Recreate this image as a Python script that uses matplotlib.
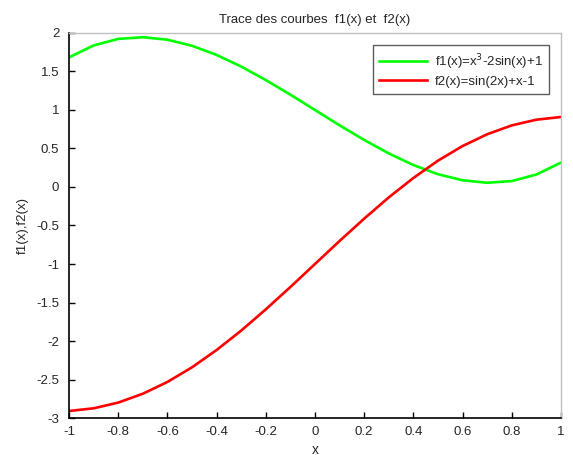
import numpy as np
import matplotlib.pyplot as plt

plt.rcParams['font.family'] = ['Liberation Sans', 'DejaVu Sans']

x = [-1.0, -0.9, -0.8, -0.7, -0.6, -0.5, -0.4, -0.3, -0.2, -0.1, 0.0,
     0.1, 0.2, 0.3, 0.4, 0.5, 0.6, 0.7, 0.8, 0.9, 1.0]
f1 = [1.683, 1.838, 1.923, 1.945, 1.913, 1.834, 1.715, 1.564, 1.389, 1.199, 1.0,
      0.801, 0.611, 0.436, 0.285, 0.166, 0.087, 0.055, 0.077, 0.162, 0.317]
f2 = [-2.909, -2.874, -2.800, -2.685, -2.532, -2.342, -2.117, -1.865, -1.589, -1.299, -1.0,
      -0.701, -0.411, -0.135, 0.117, 0.342, 0.532, 0.685, 0.800, 0.874, 0.909]

xticks = [-1, -0.8, -0.6, -0.4, -0.2, 0, 0.2, 0.4, 0.6, 0.8, 1]
xticklabels = ['-1', '-0.8', '-0.6', '-0.4', '-0.2', '0', '0.2', '0.4', '0.6', '0.8', '1']
yticks = [-3, -2.5, -2, -1.5, -1, -0.5, 0, 0.5, 1, 1.5, 2]
yticklabels = ['-3', '-2.5', '-2', '-1.5', '-1', '-0.5', '0', '0.5', '1', '1.5', '2']

txt = '#262626'

fig = plt.figure(figsize=(5.73, 4.55), dpi=100)
ax = fig.add_axes([0.1204, 0.0813, 0.8586, 0.8462])

ax.plot(x, f1, color='#00ff00', lw=1.9, label='f1(x)=x$^3$-2sin(x)+1')
ax.plot(x, f2, color='#ff0000', lw=1.9, label='f2(x)=sin(2x)+x-1')

ax.set_xlim(-1, 1)
ax.set_ylim(-3, 2)
ax.set_xticks(xticks)
ax.set_xticklabels(xticklabels)
ax.set_yticks(yticks)
ax.set_yticklabels(yticklabels)
ax.tick_params(direction='in', length=4, width=1, labelsize=9.5, color='black',
               labelcolor=txt, top=False, right=False)
ax.tick_params(axis='x', pad=6)
ax.tick_params(axis='y', pad=7)

for s in ['left', 'bottom']:
    ax.spines[s].set_color('black')
    ax.spines[s].set_linewidth(1.2)
for s in ['top', 'right']:
    ax.spines[s].set_color('#c0c0c0')
    ax.spines[s].set_linewidth(1)

ax.set_xlabel('x', fontsize=10, labelpad=3, color=txt)
ax.set_ylabel('f1(x),f2(x)', fontsize=9.5, labelpad=5, color=txt)
ax.set_title('Trace des courbes  f1(x) et  f2(x)', fontsize=9.5, pad=7, color=txt)

leg = ax.legend(loc='upper right', bbox_to_anchor=(0.99, 0.985), fontsize=9.5,
                frameon=True, fancybox=False, edgecolor='#333333',
                handlelength=3.6, borderpad=0.5, labelspacing=0.3, handletextpad=0.6)
leg.get_frame().set_linewidth(1)
for t in leg.get_texts():
    t.set_color(txt)

fig.savefig('out.png', dpi=100)
